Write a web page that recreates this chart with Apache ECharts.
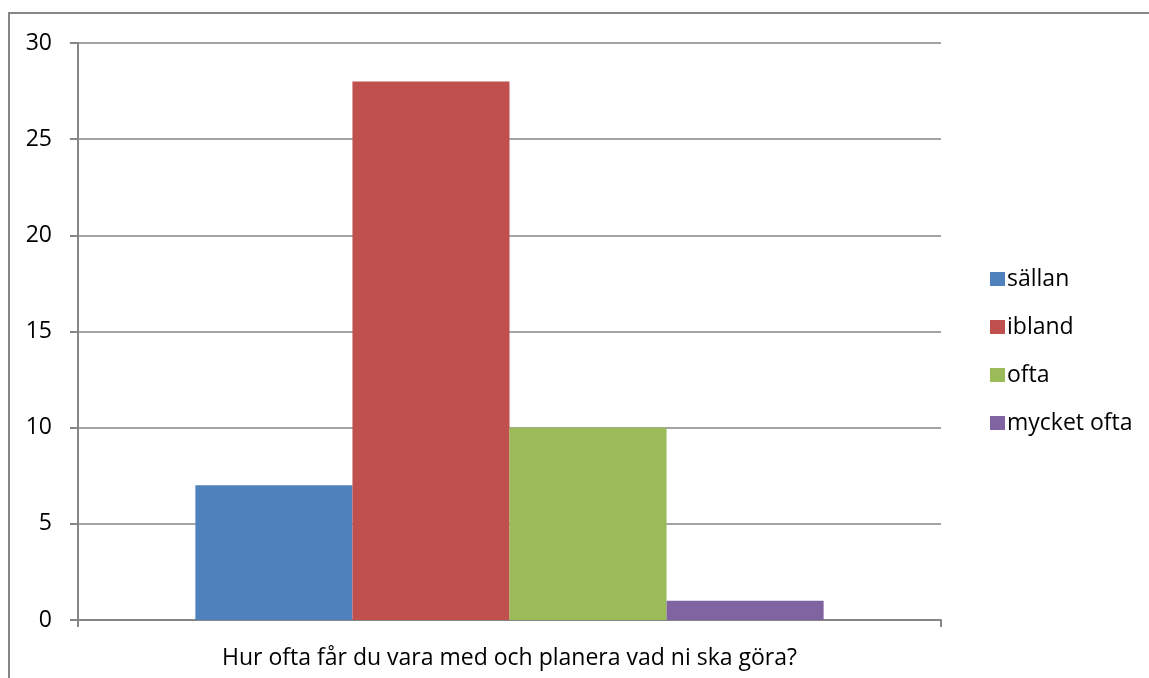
<!DOCTYPE html>
<html>
<head>
<meta charset="utf-8">
<script src="https://cdn.jsdelivr.net/npm/echarts@6/dist/echarts.min.js"></script>
<style>
  html, body { margin: 0; padding: 0; background: #fff; }
  #chart { width: 1149px; height: 678px; }
</style>
</head>
<body>
<div id="chart"></div>
<script>
    var categories = ['Hur ofta får du vara med och planera vad ni ska göra?'];
    var seriesNames = ['sällan', 'ibland', 'ofta', 'mycket ofta'];
    var seriesValues = [[7], [28], [10], [1]];
    var colors = ['#4F81BD', '#C0504D', '#9BBB59', '#8064A2'];

    var chart = echarts.init(document.getElementById('chart'));
    var font = "'Open Sans', sans-serif";

    var series = seriesNames.map(function (name, i) {
        return {
            name: name,
            type: 'bar',
            data: seriesValues[i],
            barGap: '0%',
            barCategoryGap: '27.2%',
            itemStyle: { color: colors[i] }
        };
    });

    var option = {
        animation: false,
        color: colors,
        textStyle: { fontFamily: font },
        graphic: [{
            type: 'rect',
            shape: { x: 9, y: 13, width: 1200, height: 720 },
            style: { fill: 'none', stroke: '#868686', lineWidth: 2 },
            silent: true
        }],
        legend: {
            orient: 'vertical',
            left: 985,
            top: 262,
            itemWidth: 15,
            itemHeight: 14,
            itemGap: 24,
            icon: 'rect',
            data: seriesNames,
            textStyle: { fontSize: 23, lineHeight: 24, color: '#000', fontFamily: font, padding: [0, 0, 0, -3] }
        },
        grid: {
            left: 78,
            right: 208,
            top: 43,
            bottom: 58
        },
        xAxis: {
            type: 'category',
            data: categories,
            axisLine: { lineStyle: { color: '#868686', width: 2 } },
            axisTick: { show: true, length: 7, alignWithLabel: false, lineStyle: { color: '#868686', width: 2 } },
            axisLabel: { fontSize: 23, color: '#000', margin: 27, fontFamily: font }
        },
        yAxis: {
            type: 'value',
            min: 0,
            max: 30,
            interval: 5,
            axisLine: { show: true, lineStyle: { color: '#868686', width: 2 } },
            axisTick: { show: true, length: 8, lineStyle: { color: '#868686', width: 2 } },
            axisLabel: { fontSize: 23, color: '#000', margin: 26, fontFamily: font },
            splitLine: { show: true, lineStyle: { color: '#868686', width: 1.5 } }
        },
        series: series
    };
    chart.setOption(option);
</script>
</body>
</html>
